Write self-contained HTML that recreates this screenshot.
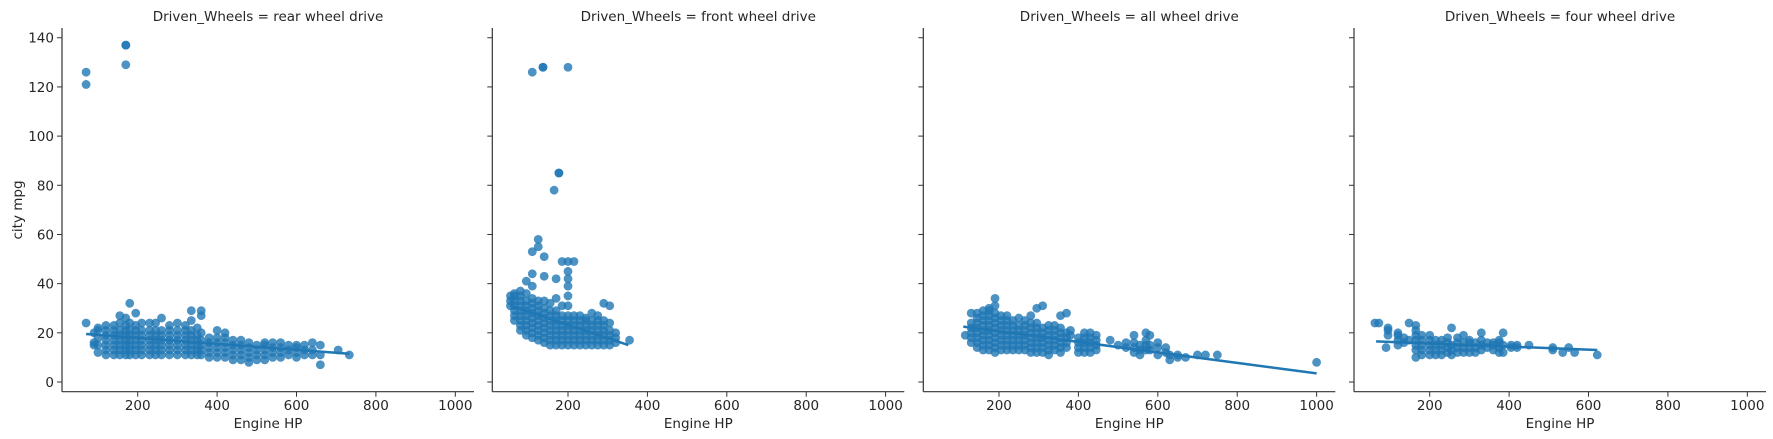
<!DOCTYPE html>
<html><head><meta charset="utf-8"><style>
html,body{margin:0;padding:0;background:#fff}
svg{display:block}
text{font-family:"DejaVu Sans","Liberation Sans",sans-serif;fill:#262626}
</style></head><body>
<svg id="chart" width="1773" height="439" viewBox="0 0 1773 439" xmlns="http://www.w3.org/2000/svg"></svg>
<script>
const panelTitles = ["rear wheel drive","front wheel drive","all wheel drive","four wheel drive"];
const xTicks = [200,400,600,800,1000];
const yTicks = [0,20,40,60,80,100,120,140];
// columns: [hp, [mpg values...]]
const rearCols = [[70,[24,126,121]],[90,[15,16,20]],[100,[12,15,18,21,22]],[120,[11,13,15,17,19,21,23]],[140,[11,13,15,17,19,21,23]],[155,[11,13,15,17,19,21,24,27]],[170,[11,13,15,17,19,21,23,26,137,137,129]],[180,[11,13,15,17,19,21,24,32]],[195,[11,13,15,17,19,21,23,28]],[210,[11,13,15,17,19,21,24]],[230,[11,13,15,17,19,21,24]],[245,[11,13,15,17,19,21,24]],[260,[11,13,15,17,19,21,26]],[280,[11,13,15,17,19,21,23]],[300,[11,13,15,17,19,21,24]],[320,[11,13,15,17,19,21,23]],[335,[11,13,15,17,19,21,25,29]],[350,[11,13,15,17,19,22]],[360,[11,13,15,17,20,27,29]],[380,[10,12,14,16,18]],[400,[10,12,14,16,18,21]],[420,[10,12,14,16,18,20]],[440,[9,11,13,15,17]],[460,[9,11,13,15,17]],[480,[8,10,12,14,16]],[500,[9,11,13,15]],[520,[9,11,13,15,16]],[540,[10,12,14,16]],[560,[10,12,14,16]],[580,[11,13,15]],[600,[10,12,14,15]],[620,[11,13,15]],[640,[11,13,16]],[660,[7,11,15]],[705,[13]],[733,[11]]];
const frontCols = [[55,[31,33,35]],[65,[25,27,29,31,33,35,36]],[80,[21,23,25,27,29,31,33,35,37]],[95,[19,21,23,25,27,29,31,33,36,41]],[110,[18,20,22,24,26,28,30,32,34,39,44,53,126]],[125,[17,19,21,23,25,27,29,31,33,58,55]],[137,[128,128]],[140,[16,18,20,22,24,26,28,30,33,43,51]],[155,[15,17,19,21,23,25,27,29,32]],[165,[78]],[170,[15,17,19,21,23,25,27,29,34,42]],[177,[85,85]],[185,[15,17,19,21,23,25,27,31,49]],[200,[15,17,19,21,23,25,27,31,35,39,42,45,49,128]],[215,[15,17,19,21,23,25,27,49]],[230,[15,17,19,21,23,25,27]],[245,[15,17,19,21,23,25,26]],[260,[15,17,19,21,23,25,28]],[275,[15,17,19,21,23,25,27]],[290,[15,17,19,21,23,25,32]],[305,[15,17,19,21,24,31]],[320,[16,18,20]],[355,[17]]];
const allCols = [[115,[19]],[130,[16,18,20,22,24,28]],[145,[14,16,18,20,22,24,26,28]],[160,[13,15,17,19,21,23,25,27,29]],[175,[13,15,17,19,21,23,25,27,29,30]],[190,[12,14,16,18,20,22,24,26,28,31,34]],[205,[13,15,17,19,21,23,25,27]],[220,[13,15,17,19,21,23,25,27]],[235,[13,15,17,19,21,23,25]],[250,[13,15,17,19,21,23,26]],[265,[13,15,17,19,21,23,25]],[280,[12,14,16,18,20,22,24,27]],[295,[12,14,16,18,20,22,24,30]],[310,[12,14,16,18,20,22,31]],[325,[11,13,15,17,19,21,23]],[340,[13,15,17,19,21,23]],[355,[12,14,16,18,20,22,27]],[370,[14,16,18,20,28]],[380,[19,21]],[400,[12,14,16,18]],[415,[12,14,16,18,20]],[430,[12,14,16,18,20]],[445,[13,15,17,19]],[480,[17]],[500,[15]],[520,[14,16]],[540,[12,14,16,19]],[555,[11,13,15]],[570,[13,15,17,20]],[580,[13,15,19]],[600,[11,14,16]],[620,[12,14]],[630,[9,11]],[650,[10,11]],[670,[10]],[700,[11]],[720,[11]],[750,[11]],[1000,[8]]];
const fourCols = [[62,[24]],[72,[24]],[90,[14]],[95,[19,21,22]],[120,[15,17,19,20]],[135,[16,18]],[148,[17,24]],[165,[10,13,15,17,19,21,23]],[180,[11,13,15,17,19]],[200,[11,13,15,17,19]],[215,[11,13,15,17]],[230,[11,13,15,17]],[245,[12,14,16,18]],[255,[11,13,15,22]],[270,[12,14,16,18]],[285,[12,14,16,19]],[300,[12,14,16,17]],[315,[12,14,16]],[330,[13,15,17,20]],[345,[14,16]],[360,[13,15,16]],[375,[12,14,16,17]],[385,[12,15,20]],[405,[14,15]],[420,[14,15]],[450,[15]],[510,[13,14]],[535,[12]],[550,[14]],[565,[12]],[622,[11]]];
// regression endpoints [x0,y0,x1,y1]
const rearFit = [70,19.5,733,11.5];
const frontFit = [55,31,352,15];
const allFit = [110,22.5,1000,3.5];
const fourFit = [65,16.5,622,13];

const panelCols = [rearCols,frontCols,allCols,fourCols];
const panelFits = [rearFit,frontFit,allFit,fourFit];
const lefts = [62,492.3,923.3,1354];
const W = 412, axTop = 28, axBottom = 391.7;
const xMin = 9.3, xMax = xMin + W/0.397;
const yMin = (382-391.7)/2.459, yMax = (382-28)/2.459;
const NS = "http://www.w3.org/2000/svg";
const svg = document.getElementById('chart');
function mk(tag, attrs, parent){const e=document.createElementNS(NS,tag);for(const k in attrs)e.setAttribute(k,attrs[k]);(parent||svg).appendChild(e);return e;}
function yScale(v){return axBottom - (v - yMin)/(yMax - yMin)*(axBottom-axTop);}

panelCols.forEach((cols,i)=>{
  const L = lefts[i];
  const xScale = v => L + (v - xMin)/(xMax - xMin)*W;
  const g = mk('g',{});
  
  
  const f = panelFits[i];
  const ln = mk('line',{x1:xScale(f[0]),y1:yScale(f[1]),x2:xScale(f[2]),y2:yScale(f[3]),stroke:'#1f77b4','stroke-width':2.5},g);
  
  
  const pts = mk('g',{fill:'#1f77b4','fill-opacity':'0.8'},g);
  
  
  cols.forEach(([hp,vals])=>{
    vals.forEach(m=>{
      const c = mk('circle',{cx:xScale(hp),cy:yScale(m),r:4.4},pts);
      
      
    });
  });
  const sp1 = mk('line',{x1:L,y1:axTop,x2:L,y2:axBottom,stroke:'#333','stroke-width':1.2},g);
  
  
  const sp2 = mk('line',{x1:L,y1:axBottom,x2:L+W,y2:axBottom,stroke:'#333','stroke-width':1.2},g);
  
  
  yTicks.forEach(t=>{
    const y=yScale(t);
    const tk = mk('line',{x1:L-5,y1:y,x2:L,y2:y,stroke:'#333','stroke-width':1},g);
    
    
    if(i===0){
      const tx = mk('text',{x:L-8,y:y+5,'text-anchor':'end','font-size':13.5},g);
      tx.textContent=t;
      
      
    }
  });
  xTicks.forEach(t=>{
    const x=xScale(t);
    const tk = mk('line',{x1:x,y1:axBottom,x2:x,y2:axBottom+5,stroke:'#333','stroke-width':1},g);
    
    
    const tx = mk('text',{x:x,y:410,'text-anchor':'middle','font-size':13.5},g);
    tx.textContent=t;
    
    
  });
  const xl = mk('text',{x:L+W/2,y:428,'text-anchor':'middle','font-size':13.5},g);
  xl.textContent='Engine HP';
  
  
  const tt = mk('text',{x:L+W/2,y:21,'text-anchor':'middle','font-size':13.5},g);
  tt.textContent='Driven_Wheels = '+panelTitles[i];
  
  
});
const yl = mk('text',{x:22,y:210,'text-anchor':'middle','font-size':13.5,transform:'rotate(-90 22 210)'});
yl.textContent='city mpg';


</script>
</body></html>
